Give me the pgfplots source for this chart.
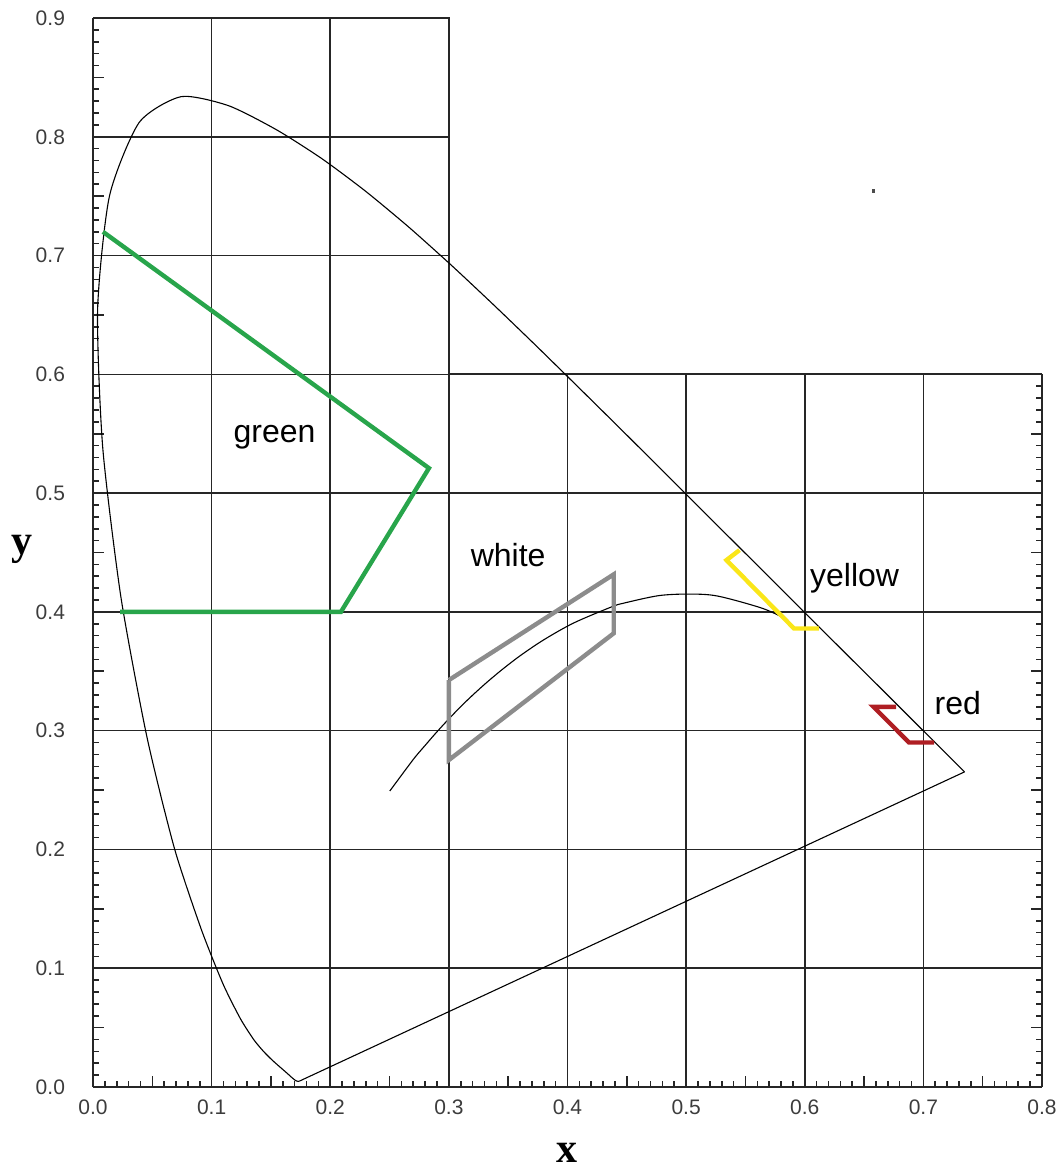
\documentclass[border=0pt]{standalone}
\usepackage{pgfplots}
\pgfplotsset{compat=1.18}
\usepackage{fontspec}
\setmainfont{Liberation Sans}
\newfontfamily\timesfont{Liberation Serif}
\definecolor{grn}{RGB}{40,165,75}
\definecolor{gry}{RGB}{140,140,140}
\definecolor{yel}{RGB}{250,230,25}
\definecolor{rd}{RGB}{175,30,35}
\definecolor{tickc}{RGB}{60,60,60}
\begin{document}
\begin{tikzpicture}
\path[use as bounding box] (-46.5pt,-41pt) rectangle (483.5pt,543.5pt);
\begin{axis}[
  at={(0,0)}, anchor=south west, scale only axis,
  width=474.5pt, height=534.5pt,
  xmin=0, xmax=0.8, ymin=0, ymax=0.9,
  clip=false,
  axis x line*=bottom, axis y line*=left,
  axis line style={line width=1pt, black!85},
  xtick={0,0.1,0.2,0.3,0.4,0.5,0.6,0.7,0.8},
  ytick={0,0.1,0.2,0.3,0.4,0.5,0.6,0.7,0.8,0.9},
  minor x tick num=9, minor y tick num=9,
  tick align=inside,
  major tick length=0pt, minor tick length=2.8pt,
  extra x ticks={0.05,0.15,0.25,0.35,0.45,0.55,0.65,0.75},
  extra y ticks={0.05,0.15,0.25,0.35,0.45,0.55,0.65,0.75,0.85},
  extra x tick labels={}, extra y tick labels={},
  extra tick style={major tick length=5.3pt},
  tick style={line width=0.8pt, black!85},
  ticklabel style={font=\fontsize{10.5}{12}\selectfont, text=tickc},
  /pgf/number format/.cd, fixed, fixed zerofill, precision=1, assume math mode=true, /pgfplots/.cd,
  xticklabel style={yshift=-3pt},
  yticklabel style={xshift=-10.5pt},
  xlabel={\timesfont\bfseries x},
  ylabel={\timesfont\bfseries y},
  label style={font=\fontsize{21}{24}\selectfont},
  xlabel style={at={(axis description cs:0.5,0)}, anchor=base, yshift=-37.5pt},
  ylabel style={at={(axis description cs:-0.0748,0.4986)}, anchor=base, rotate=-90},
]
% grid
\draw[line width=0.8pt, black!85]
  (axis cs:0.1,0) -- (axis cs:0.1,0.9)
  (axis cs:0.2,0) -- (axis cs:0.2,0.9)
  (axis cs:0.3,0) -- (axis cs:0.3,0.6)
  (axis cs:0.4,0) -- (axis cs:0.4,0.6)
  (axis cs:0.5,0) -- (axis cs:0.5,0.6)
  (axis cs:0.6,0) -- (axis cs:0.6,0.6)
  (axis cs:0.7,0) -- (axis cs:0.7,0.6)
  (axis cs:0,0.1) -- (axis cs:0.8,0.1)
  (axis cs:0,0.2) -- (axis cs:0.8,0.2)
  (axis cs:0,0.3) -- (axis cs:0.8,0.3)
  (axis cs:0,0.4) -- (axis cs:0.8,0.4)
  (axis cs:0,0.5) -- (axis cs:0.8,0.5)
  (axis cs:0,0.6) -- (axis cs:0.3,0.6)
  (axis cs:0,0.7) -- (axis cs:0.3,0.7)
  (axis cs:0,0.8) -- (axis cs:0.3,0.8);
% partial frame
\draw[line width=1pt, black!85]
  (axis cs:0,0.9) -- (axis cs:0.3,0.9) -- (axis cs:0.3,0.6) -- (axis cs:0.8,0.6);
% spectral locus
\addplot[black, line width=0.55pt, smooth, tension=0.4] coordinates {
(0.1741,0.0050) (0.1738,0.0049) (0.1733,0.0048) (0.1726,0.0048) (0.1714,0.0051)
(0.1703,0.0058) (0.1689,0.0069) (0.1669,0.0086) (0.1644,0.0109) (0.1611,0.0138)
(0.1566,0.0177) (0.1510,0.0227) (0.1440,0.0297) (0.1355,0.0399) (0.1241,0.0578)
(0.1096,0.0868) (0.0913,0.1327)
(0.0687,0.2007) (0.0454,0.2950) (0.0235,0.4127) (0.0082,0.5384) (0.0039,0.6548)
(0.0139,0.7502) (0.0389,0.8120) (0.0743,0.8338) (0.1142,0.8262) (0.1547,0.8059)
(0.1929,0.7816) (0.2296,0.7543) (0.2658,0.7243) (0.3016,0.6923) (0.3373,0.6589)
(0.3731,0.6245) (0.4087,0.5896) (0.4441,0.5547) (0.4788,0.5202) (0.5125,0.4866)
(0.5448,0.4544) (0.5752,0.4242) (0.6029,0.3965) (0.6270,0.3725) (0.6482,0.3514)
(0.6658,0.3340) (0.6915,0.3083) (0.7079,0.2920) (0.7190,0.2809) (0.7260,0.2740)
(0.7300,0.2700) (0.7334,0.2666) (0.7347,0.2653)
};
% purple line
\addplot[black, line width=0.55pt] coordinates {(0.7347,0.2653) (0.1741,0.0050)};
% Planckian locus
\addplot[black, line width=0.55pt, smooth] coordinates {
(0.5857,0.3931) (0.5646,0.4029) (0.5267,0.4133) (0.5030,0.4150) (0.4770,0.4137)
(0.4476,0.4074) (0.4369,0.4041) (0.4053,0.3907) (0.3805,0.3768) (0.3608,0.3636)
(0.3451,0.3516) (0.3325,0.3411) (0.3221,0.3318) (0.3135,0.3237) (0.3064,0.3166)
(0.2952,0.3048) (0.2869,0.2956) (0.2807,0.2884) (0.2719,0.2782) (0.2637,0.2674)
(0.2565,0.2577) (0.2502,0.2492)
};
% regions
\addplot[grn, line width=2.2pt] coordinates {(0.0084,0.7200) (0.2832,0.5210) (0.2090,0.4000) (0.0228,0.4000)};
\addplot[gry, line width=2.2pt] coordinates {(0.3000,0.3426) (0.4390,0.4316) (0.4390,0.3820) (0.3000,0.2753) (0.3000,0.3426)};
\addplot[yel, line width=2.2pt] coordinates {(0.5450,0.4520) (0.5340,0.4436) (0.5910,0.3860) (0.6120,0.3860)};
\addplot[rd, line width=2.2pt] coordinates {(0.6770,0.3200) (0.6580,0.3200) (0.6880,0.2900) (0.7090,0.2900)};
\addplot[only marks, mark=square*, mark size=0.6pt, black!70] coordinates {(0.6578,0.7545)};
\node[font=\fontsize{16}{18}\selectfont] at (axis cs:0.153,0.547) {green};
\node[font=\fontsize{16}{18}\selectfont] at (axis cs:0.350,0.448) {white};
\node[font=\fontsize{16}{18}\selectfont] at (axis cs:0.642,0.428) {yellow};
\node[font=\fontsize{16}{18}\selectfont] at (axis cs:0.729,0.323) {red};
\end{axis}
\begin{axis}[
  at={(0,0)}, anchor=south west, scale only axis,
  width=474.5pt, height=356.333pt,
  xmin=0, xmax=0.8, ymin=0, ymax=0.6,
  axis x line=none, axis y line*=right,
  axis line style={line width=1pt, black!85},
  ytick={0,0.1,0.2,0.3,0.4,0.5,0.6}, yticklabels={},
  minor y tick num=9, tick align=inside,
  major tick length=0pt, minor tick length=2.8pt,
  extra y ticks={0.05,0.15,0.25,0.35,0.45,0.55}, extra y tick labels={},
  extra tick style={major tick length=5.3pt},
  tick style={line width=0.8pt, black!85},
]
\addplot[draw=none] coordinates {(0.4,0.3)};
\end{axis}
\end{tikzpicture}
\end{document}
